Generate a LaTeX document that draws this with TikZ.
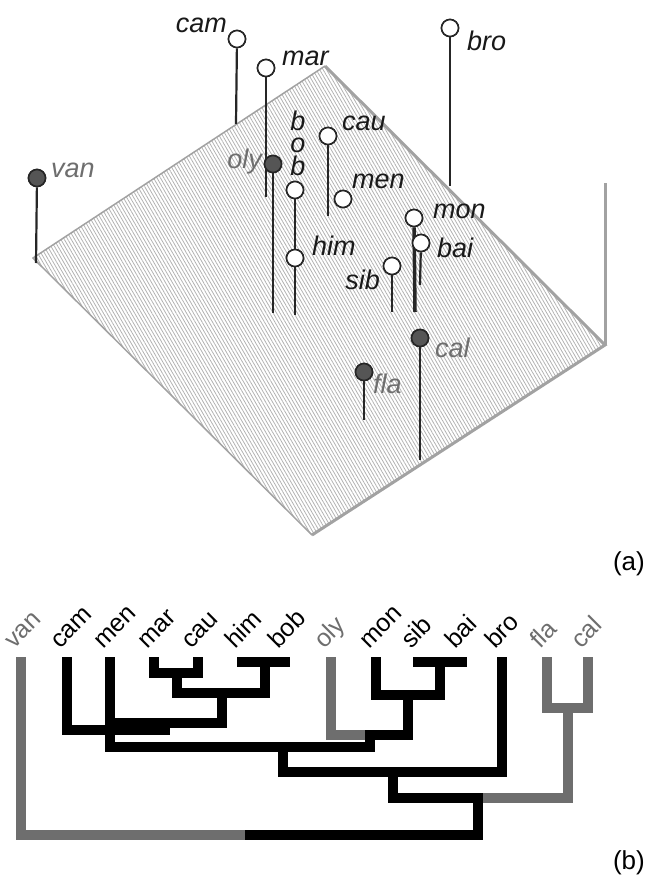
\documentclass[tikz,border=0pt]{standalone}
\usepackage{fontspec}
\setmainfont{Liberation Sans}
\usepackage{graphicx}
\usepackage{xcolor}
\usepackage{tikz}
\usetikzlibrary{patterns.meta}
\definecolor{treegray}{HTML}{6E6E6E}
\definecolor{edgegray}{HTML}{A2A2A2}
\definecolor{hatchgray}{HTML}{B2B2B2}
\definecolor{ballgray}{HTML}{555555}
\newcommand{\tiptext}[1]{\rotatebox{45}{\vphantom{b}#1}}

\begin{document}
\begin{tikzpicture}[x=1pt,y=-1pt,
    openball/.style={circle,draw=black!85,line width=1.6pt,fill=white,minimum size=17pt,inner sep=0pt},
    darkball/.style={openball,fill=ballgray},
    stem/.style={line width=2.2pt,black!85},
    lbl/.style={inner sep=0pt,text=black!90,font=\fontsize{27}{22.5}\selectfont\itshape},
    graylbl/.style={lbl,text=treegray},
    tiplbl/.style={inner sep=0pt,font=\fontsize{25}{25}\selectfont,anchor=base west},
    branch/.style={line width=10pt,line cap=rect,line join=miter},
    capt/.style={inner sep=0pt,font=\fontsize{26}{26}\selectfont,anchor=base east}]
    \useasboundingbox (0,0) rectangle (647,878);

    % (a) the plane
    \coordinate (pl-l) at (33,258);
    \coordinate (pl-t) at (325,66);
    \coordinate (pl-r) at (605,345);
    \coordinate (pl-b) at (312,535);
    \coordinate (post) at (605,183);
    \path[pattern={Lines[angle=-60,distance=3pt,line width=0.8pt]},pattern color=hatchgray]
        (pl-l) -- (pl-t) -- (pl-r) -- (pl-b) -- cycle;
    \draw[edgegray,line width=1.5pt] (pl-b) -- (pl-l) -- (pl-t);
    \draw[edgegray,line width=3pt,line join=miter] (pl-t) -- (pl-r) -- (pl-b);
    \draw[edgegray,line width=3pt] (post) -- (pl-r);

    % stem feet
    \coordinate (van-foot) at (36,263);
    \coordinate (cam-foot) at (236,124);
    \coordinate (mar-foot) at (266,197);
    \coordinate (oly-foot) at (273,313);
    \coordinate (him-foot) at (295,315);
    \coordinate (cau-foot) at (328,216);
    \coordinate (bro-foot) at (450,186);
    \coordinate (mon-foot) at (415,312);
    \coordinate (bai-foot) at (420,285);
    \coordinate (sib-foot) at (392,312);
    \coordinate (cal-foot) at (420,460);
    \coordinate (fla-foot) at (364,420);

    % balls
    \node[darkball] (van) at (37,178) {};
    \node[openball] (cam) at (237,39) {};
    \node[openball] (mar) at (266,68) {};
    \node[darkball] (oly) at (273,164) {};
    \node[openball] (bob) at (295,190) {};
    \node[openball] (him) at (295,258) {};
    \node[openball] (cau) at (328,136) {};
    \node[openball] (men) at (343,199) {};
    \node[openball] (bro) at (450,28) {};
    \node[openball] (mon) at (414,218) {};
    \node[openball] (bai) at (421,243) {};
    \node[openball] (sib) at (392,266) {};
    \node[darkball] (cal) at (420,338) {};
    \node[darkball] (fla) at (364,372) {};

    % stems
    \draw[stem] (van) -- (van-foot);
    \draw[stem] (cam) -- (cam-foot);
    \draw[stem] (mar) -- (mar-foot);
    \draw[stem] (oly) -- (oly-foot);
    \draw[stem] (bob) -- (him);
    \draw[stem] (him) -- (him-foot);
    \draw[stem] (cau) -- (cau-foot);
    \draw[stem] (bro) -- (bro-foot);
    \draw[stem,line width=3.5pt] (mon) -- (mon-foot);
    \draw[stem] (bai) -- (bai-foot);
    \draw[stem] (sib) -- (sib-foot);
    \draw[stem] (cal) -- (cal-foot);
    \draw[stem] (fla) -- (fla-foot);

    % balls again on top of the stems
    \foreach \b in {cam,mar,bob,him,cau,men,bro,mon,bai,sib}
        \node[openball] at (\b) {};
    \foreach \b in {van,oly,cal,fla}
        \node[darkball] at (\b) {};

    % ball labels
    \node[graylbl,anchor=base west] (van-lbl) at (51,177) {van};
    \node[lbl,anchor=base east] (cam-lbl) at (227,32) {cam};
    \node[lbl,anchor=base west] (mar-lbl) at (282,65) {mar};
    \node[graylbl,anchor=base east] (oly-lbl) at (262,168) {oly};
    \node[lbl,align=center] (bob-lbl) at (298,143) {b\\o\\b};
    \node[lbl,anchor=base west] (him-lbl) at (312,255) {him};
    \node[lbl,anchor=base west] (cau-lbl) at (342,130) {cau};
    \node[lbl,anchor=base west] (men-lbl) at (352,188) {men};
    \node[lbl,anchor=base west] (bro-lbl) at (467,50) {bro};
    \node[lbl,anchor=base west] (mon-lbl) at (433,218) {mon};
    \node[lbl,anchor=base west] (bai-lbl) at (437,257) {bai};
    \node[lbl,anchor=base east] (sib-lbl) at (380,289) {sib};
    \node[graylbl,anchor=base west] (cal-lbl) at (435,357) {cal};
    \node[graylbl,anchor=base west] (fla-lbl) at (373,393) {fla};

    \node[capt] (cap-a) at (645,570) {(a)};

    % (b) the tree
    \foreach \n/\x/\c in {van/21/treegray, cam/67/black, men/110/black, mar/154/black,
        cau/198/black, him/242/black, bob/285/black, oly/331/treegray, mon/376/black,
        sib/418/black, bai/462/black, bro/502/black, fla/547/treegray, cal/588/treegray}{
        \coordinate (t-\n) at (\x,662);
        \node[tiplbl,text=\c] (tl-\n) at (\x-20,649) {\tiptext{\n}};
    }
    \coordinate (n-marcau) at (177,673);
    \coordinate (n-himbob) at (265,662);
    \coordinate (n-four) at (222,693);
    \coordinate (n-four-end) at (120,723);
    \coordinate (n-cam) at (165,730);
    \coordinate (n-sibbai) at (440,662);
    \coordinate (n-mon) at (408,695);
    \coordinate (n-oly) at (370,735);
    \coordinate (n-men) at (283,747);
    \coordinate (n-bro) at (393,772);
    \coordinate (n-flacal) at (568,708);
    \coordinate (n-out) at (478,798);
    \coordinate (n-root) at (250,835);

    % gray branches
    \draw[branch,treegray] (t-fla) |- (n-flacal);
    \draw[branch,treegray] (t-cal) |- (n-flacal);
    \draw[branch,treegray] (n-flacal) |- (n-out);
    \draw[branch,treegray] (t-van) |- (n-root);
    \draw[branch,treegray] (t-oly) |- (n-oly);
    % black branches
    \draw[branch] (t-mar) |- (n-marcau);
    \draw[branch] (t-cau) |- (n-marcau);
    \draw[branch] (t-him) -- (n-himbob);
    \draw[branch] (t-bob) -- (n-himbob);
    \draw[branch] (n-marcau) |- (n-four);
    \draw[branch] (n-himbob) |- (n-four);
    \draw[branch] (n-four) |- (n-four-end);
    \draw[branch] (t-cam) |- (n-cam);
    \draw[branch] (t-men) |- (n-men);
    \draw[branch] (t-sib) -- (n-sibbai);
    \draw[branch] (t-bai) -- (n-sibbai);
    \draw[branch] (t-mon) |- (n-mon);
    \draw[branch] (n-sibbai) |- (n-mon);
    \draw[branch] (n-mon) |- (n-oly);
    \draw[branch] (n-oly) |- (n-men);
    \draw[branch] (n-men) |- (n-bro);
    \draw[branch] (t-bro) |- (n-bro);
    \draw[branch] (n-bro) |- (n-out);
    \draw[branch] (n-out) |- (n-root);

    \node[capt] (cap-b) at (645,869) {(b)};
\end{tikzpicture}
\end{document}
